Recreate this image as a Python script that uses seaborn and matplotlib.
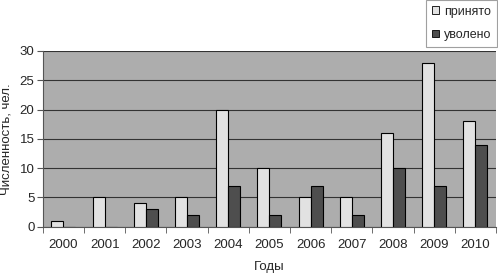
import numpy as np
import pandas as pd
import seaborn as sns
import matplotlib.pyplot as plt
from matplotlib.patches import Patch

years = ['2000', '2001', '2002', '2003', '2004', '2005', '2006', '2007', '2008', '2009', '2010']
hired = [1, 5, 4, 5, 20, 10, 5, 5, 16, 28, 18]
fired = [0, 0, 3, 2, 7, 2, 7, 2, 10, 7, 14]

df = pd.DataFrame({'Год': years * 2,
                   'Значение': hired + fired,
                   'Серия': ['принято'] * len(years) + ['уволено'] * len(years)})

sns.set_style('white')
plt.rcParams['font.family'] = ['Liberation Sans', 'DejaVu Sans']

fig = plt.figure(figsize=(4.98, 2.74), dpi=100)
ax = fig.add_axes([0.086, 0.173, 0.91, 0.641])
ax.set_facecolor('#adadad')

colors = {'принято': '#e2e2e2', 'уволено': '#4e4e4e'}
sns.barplot(data=df, x='Год', y='Значение', hue='Серия', palette=colors,
            width=0.58, edgecolor='black', linewidth=0.8, ax=ax, legend=False,
            zorder=3)

ax.set_ylim(0, 30)
ax.set_xlim(-0.5, len(years) - 0.5)
ax.set_yticks(range(0, 31, 5))
ax.yaxis.grid(True, color='#333333', linewidth=0.8, zorder=0)
ax.set_axisbelow(True)

for s in ['top', 'right']:
    ax.spines[s].set_visible(False)
ax.spines['left'].set_color('#555555')
ax.spines['bottom'].set_color('#555555')

ax.set_xticks(np.arange(len(years)))
ax.set_xticklabels(years)
ax.set_xticks(np.arange(-0.5, len(years)), minor=True)
ax.tick_params(axis='x', which='major', length=0, labelsize=9.5, pad=9)
ax.tick_params(axis='x', which='minor', length=4, color='#555555', direction='out')
ax.tick_params(axis='y', length=4, color='#555555', direction='out', labelsize=9.5, pad=2)
ax.tick_params(axis='both', bottom=True, left=True, which='both')

ax.set_xlabel('Годы', fontsize=9.5, labelpad=7)
ax.set_ylabel('Численность, чел.', fontsize=9.5, labelpad=5)

handles = [Patch(facecolor=colors[k], edgecolor='black', linewidth=0.6, label=k) for k in colors]
leg = fig.legend(handles=handles, loc='upper right', bbox_to_anchor=(0.998, 1.0),
                 borderaxespad=0, fontsize=9, frameon=True, fancybox=False,
                 handlelength=0.6, handleheight=0.6, handletextpad=0.4,
                 labelspacing=0.9, borderpad=0.45)
leg.get_frame().set_edgecolor('#888888')
leg.get_frame().set_linewidth(0.8)

fig.savefig('out.png', dpi=100)
